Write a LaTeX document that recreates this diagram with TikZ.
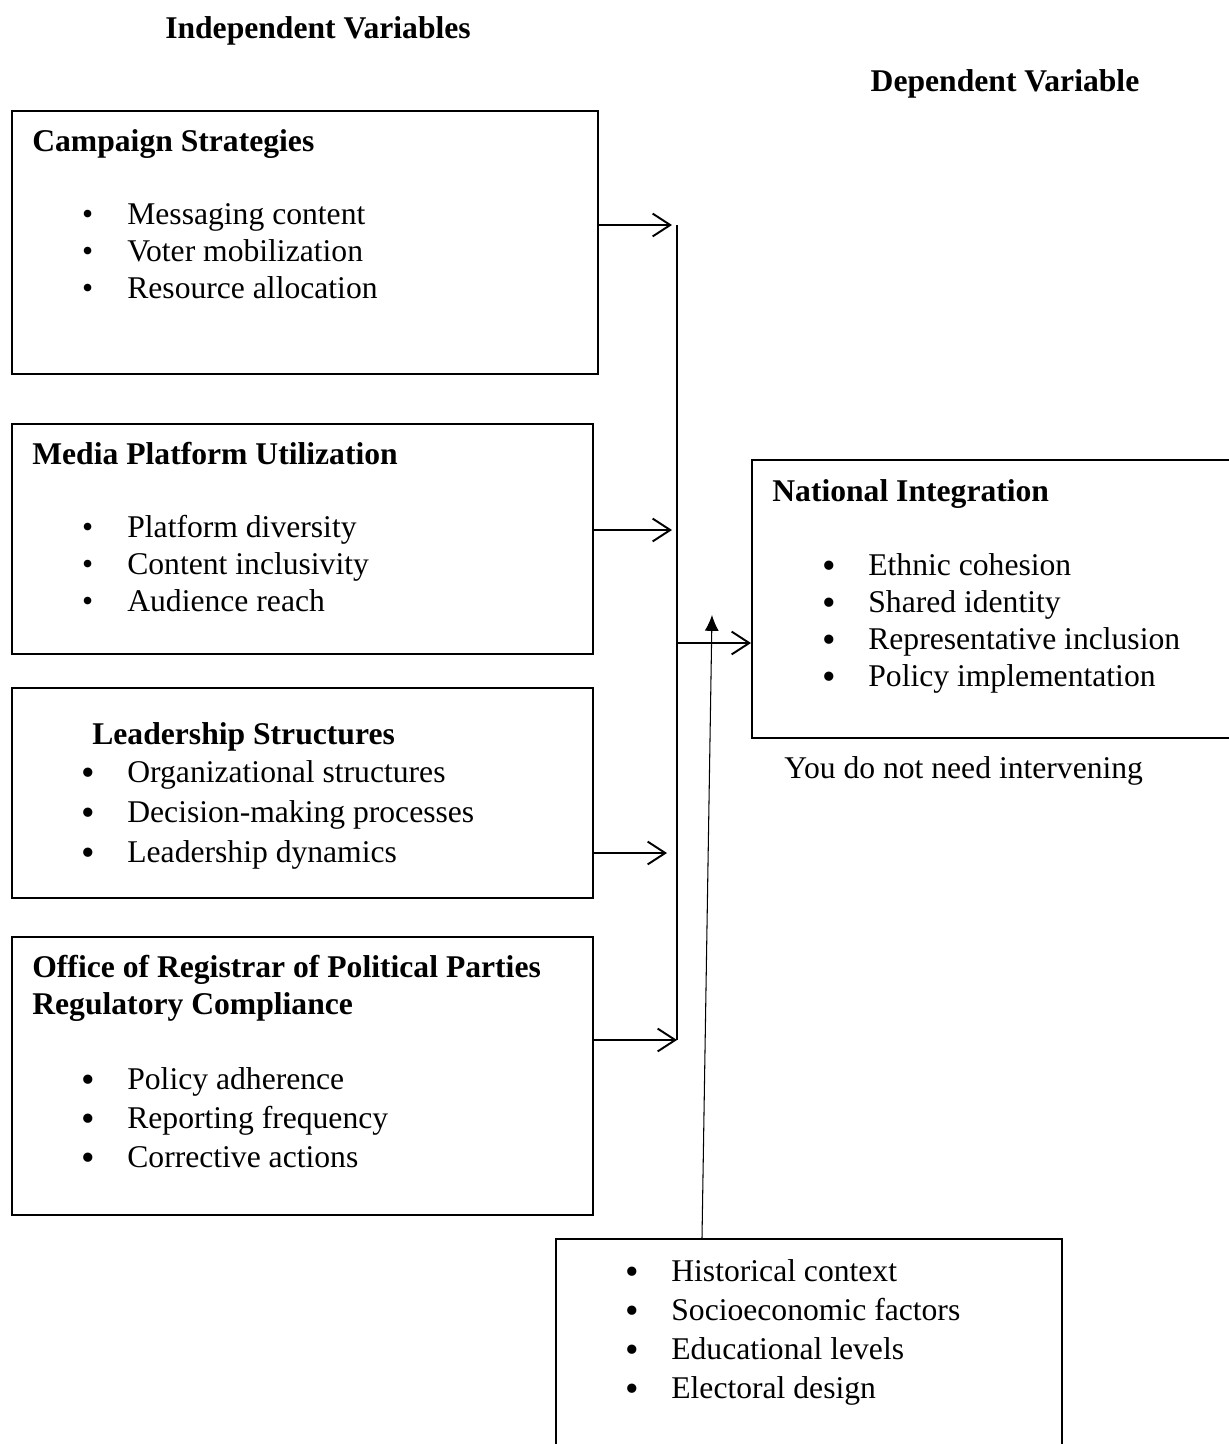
\documentclass[tikz,border=0pt]{standalone}
\usepackage{fontspec}
\setmainfont{Liberation Serif}
\usetikzlibrary{arrows.meta}

\tikzset{
  txt/.style={inner sep=0, font=\fontsize{18}{21}\selectfont},
  head/.style={txt, font=\fontsize{18}{20.5}\selectfont\bfseries, anchor=base west, align=left},
  item/.style={txt, anchor=base west, execute at begin node={\llap{\textbullet\hspace{19.5pt}}}},
  bigitem/.style={txt, anchor=base west, execute at begin node={\llap{\smash{\raisebox{-1.8pt}{\fontsize{22}{21}\selectfont\textbullet}}\hspace{18.2pt}}}},
  varbox/.style={draw, line width=0.9pt, inner sep=0, anchor=north west},
  feed/.style={line width=1.1pt, -{Straight Barb[length=10pt,width=13pt,line width=1.1pt]}},
}

\begin{document}
\begin{tikzpicture}[x=0.02cm, y=-0.02cm]
      \clip (0,0) rectangle (1229,1444);
      % headings
      \node[txt, font=\fontsize{18}{21}\selectfont\bfseries, anchor=base] (indep) at (318,38) {Independent Variables};
      \node[txt, font=\fontsize{18}{21}\selectfont\bfseries, anchor=base] (dep) at (1005,91) {Dependent Variable};
      % boxes
      \node[varbox, minimum width=586*0.02cm, minimum height=263*0.02cm] (camp) at (11,110) {};
      \node[varbox, minimum width=581*0.02cm, minimum height=230*0.02cm] (media) at (11,423) {};
      \node[varbox, minimum width=581*0.02cm, minimum height=210*0.02cm] (lead) at (11,687) {};
      \node[varbox, minimum width=581*0.02cm, minimum height=278*0.02cm] (orpp) at (11,936) {};
      \node[varbox, minimum width=500*0.02cm, minimum height=278*0.02cm] (natint) at (751,459) {};
      \node[varbox, minimum width=506*0.02cm, minimum height=260*0.02cm] (context) at (555,1238) {};
      % titles
      \node[head] (campT) at (32,151) {Campaign Strategies};
      \node[head] (mediaT) at (32,464) {Media Platform Utilization};
      \node[head] (leadT) at (92,744) {Leadership Structures};
      \node[head] (orppT) at (32,1014) {Office of Registrar of Political Parties\\Regulatory Compliance};
      \node[head] (natintT) at (772,501) {National Integration};
      % bullet lists
      \foreach \t [count=\i] in {Messaging content, Voter mobilization, Resource allocation}
        \node[item] (camp\i) at (127,{224+37*(\i-1)}) {\t};
      \foreach \t [count=\i] in {Platform diversity, Content inclusivity, Audience reach}
        \node[item] (media\i) at (127,{537+37*(\i-1)}) {\t};
      \foreach \t [count=\i] in {Organizational structures, Decision-making processes, Leadership dynamics}
        \node[bigitem] (lead\i) at (127,{782+40*(\i-1)}) {\t};
      \foreach \t [count=\i] in {Policy adherence, Reporting frequency, Corrective actions}
        \node[bigitem] (orpp\i) at (127,{1089+39*(\i-1)}) {\t};
      \foreach \t [count=\i] in {Ethnic cohesion, Shared identity, Representative inclusion, Policy implementation}
        \node[bigitem] (natint\i) at (868,{575+37*(\i-1)}) {\t};
      \foreach \t [count=\i] in {Historical context, Socioeconomic factors, Educational levels, Electoral design}
        \node[bigitem] (context\i) at (671,{1281+39*(\i-1)}) {\t};
      \node[txt, anchor=base west] (note) at (784,778) {You do not need intervening};
      % bus line and arrows
      \coordinate (bustop) at (677,225);
      \coordinate (busbot) at (677,1040);
      \coordinate (hub) at (677,643);
      \coordinate (a1) at (672,225);
      \coordinate (a2) at (672,530);
      \coordinate (a3) at (667,853);
      \coordinate (ctxtop) at (702,1238);
      \coordinate (uptip) at (712,615);
      \draw[line width=0.6pt] (bustop)--(busbot);
      \draw[feed] (camp.east |- a1)--(a1);
      \draw[feed] (media.east |- a2)--(a2);
      \draw[feed] (lead.east |- a3)--(a3);
      \draw[feed] (orpp.east |- busbot)--(busbot);
      \draw[feed] (hub)--(natint.west |- hub);
      \draw[line width=0.6pt, -{Latex[length=9pt,width=8pt]}] (ctxtop)--(uptip);
    \end{tikzpicture}
\end{document}
